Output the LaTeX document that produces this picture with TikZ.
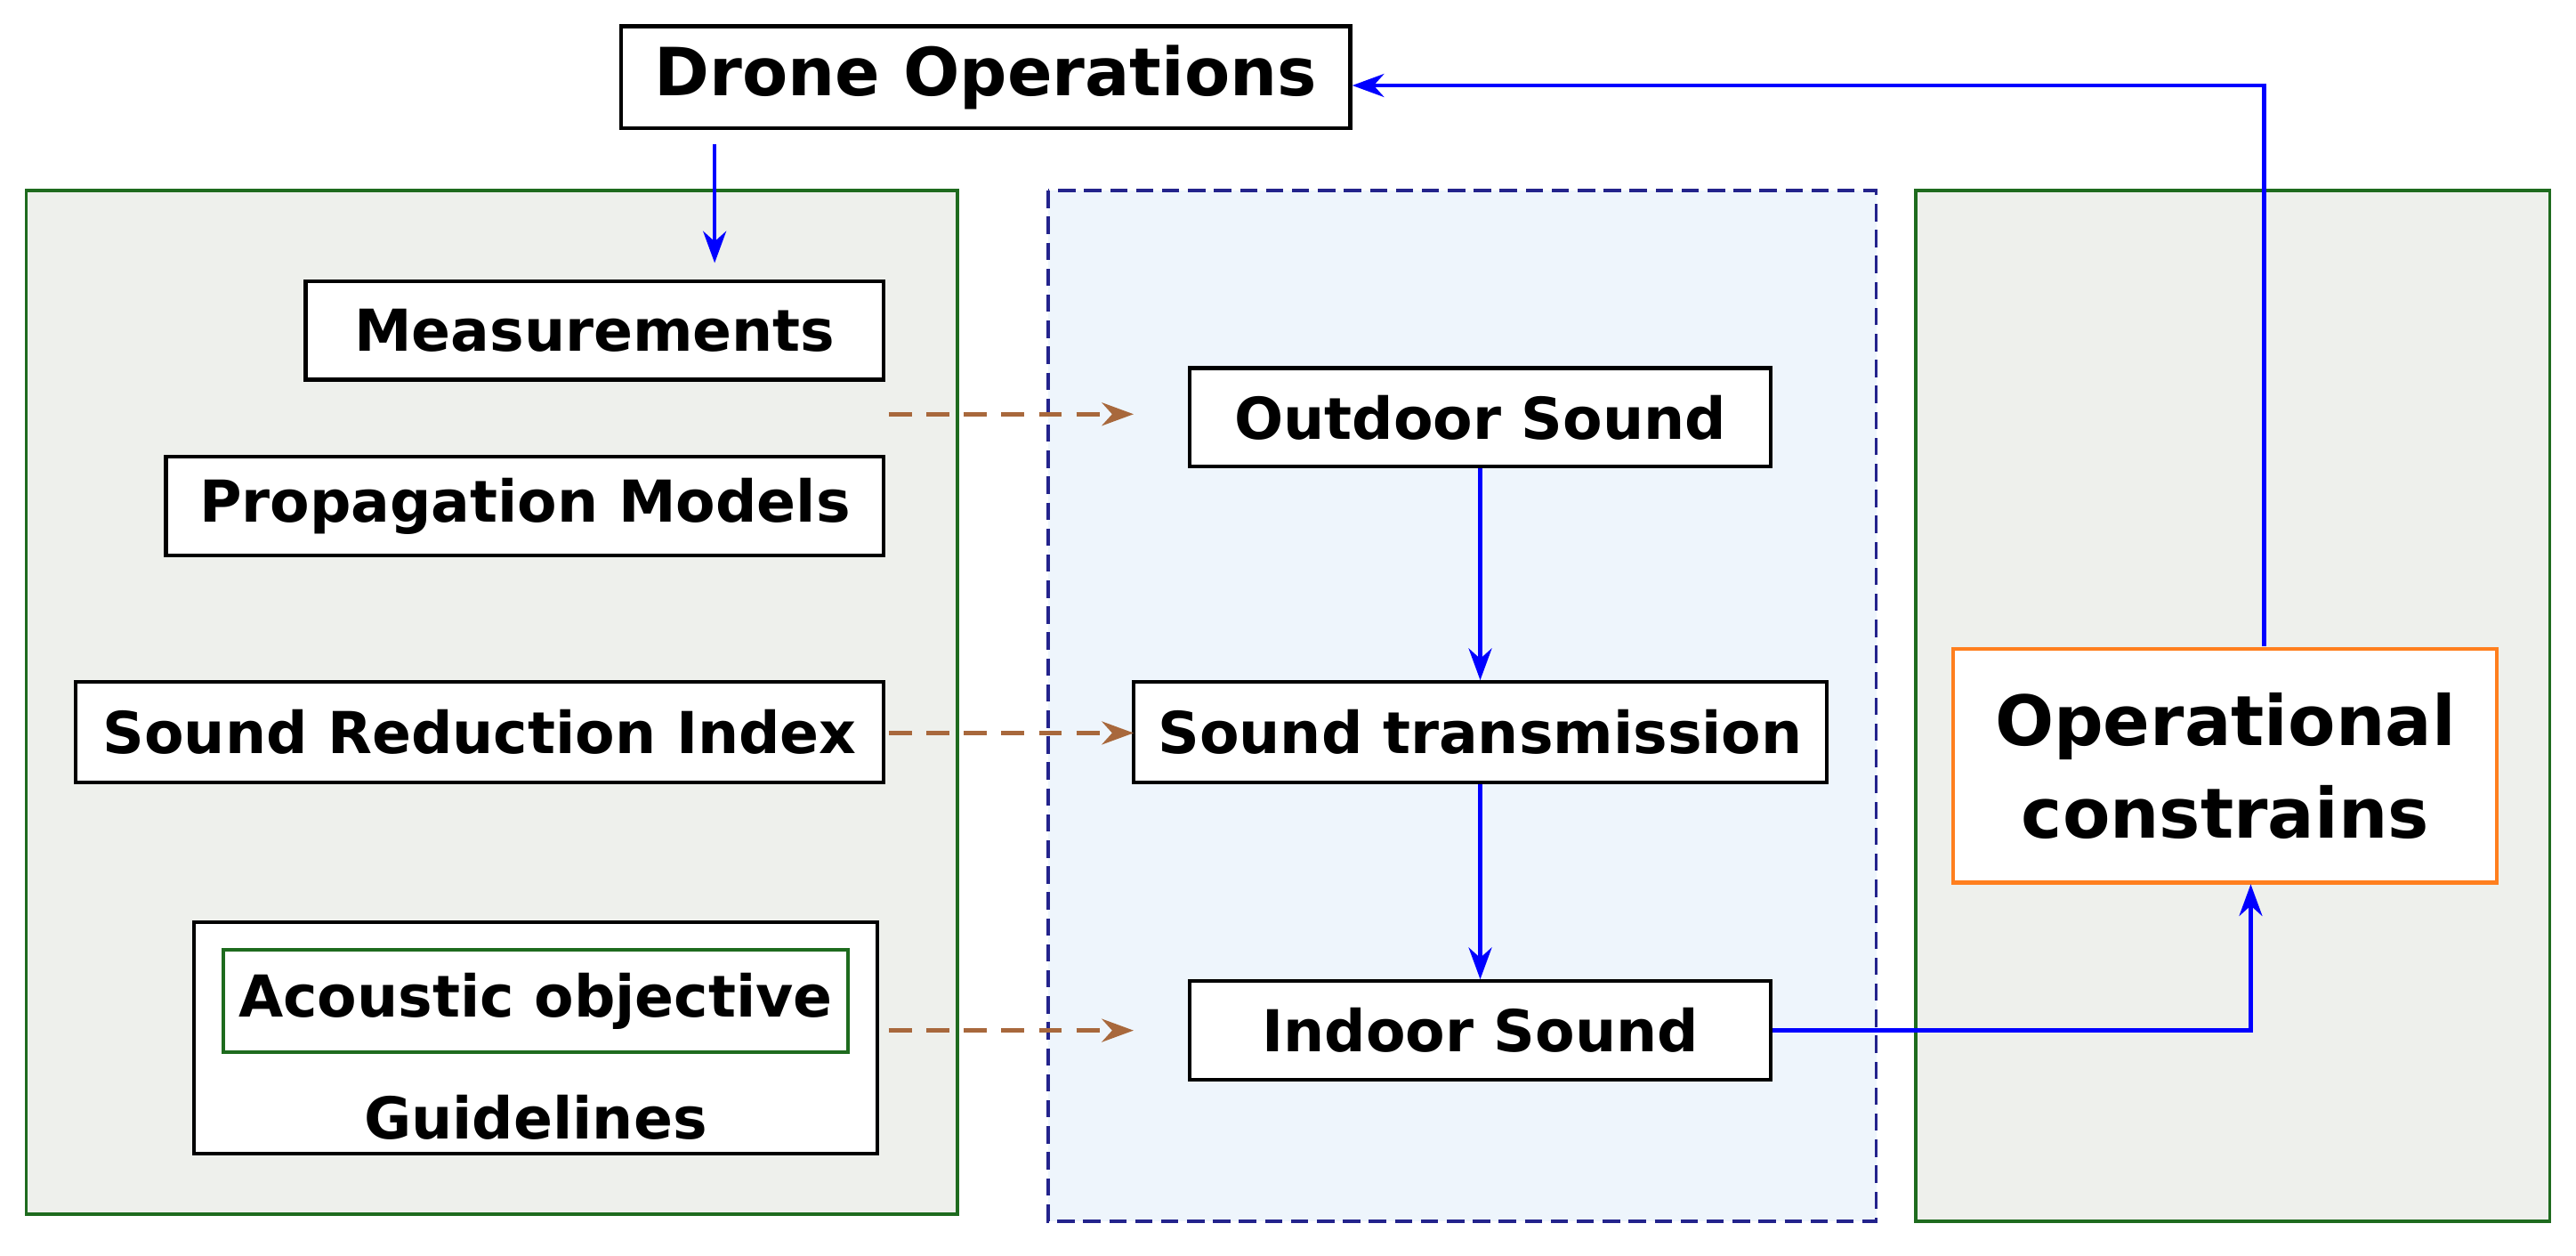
\documentclass[tikz,border=0pt]{standalone}
\usepackage{fontspec}
\setmainfont{DejaVu Sans}
\usetikzlibrary{arrows.meta}
\definecolor{panelg}{HTML}{EEF0EC}
\definecolor{panelb}{HTML}{EEF5FC}
\definecolor{dgreen}{HTML}{1E6B1E}
\definecolor{navy}{HTML}{23238C}
\definecolor{brownar}{HTML}{A8683C}
\definecolor{orng}{HTML}{FF7F1E}
\begin{document}
\begin{tikzpicture}[x=0.02cm,y=-0.02cm,
  box/.style={draw=black,line width=1.3pt,fill=white,inner sep=0pt,font=\bfseries\fontsize{20}{24}\selectfont},
  panel/.style={draw=dgreen,line width=1.2pt,fill=panelg},
  blu/.style={draw=blue,line width=1.4pt,-{Stealth[length=11pt,width=8pt]}},
  brn/.style={draw=brownar,line width=1.4pt,dash pattern=on 8pt off 5pt,-{Stealth[length=11pt,width=8pt]}}]
\useasboundingbox (0,0) rectangle (1568,764);
\path[panel] (16,116) rectangle (583,739);
\path[draw=navy,line width=1.2pt,dash pattern=on 6pt off 3pt,fill=panelb] (638,116) rectangle (1142,743);
\path[panel] (1166,116) rectangle (1552,743);
\node[box,minimum width=8.88cm,minimum height=1.24cm,font=\bfseries\fontsize{23}{27}\selectfont] (drone) at (600,47) {Drone Operations};
\node[box,minimum width=7.04cm,minimum height=1.2cm] (meas) at (362,201) {Measurements};
\node[box,minimum width=8.74cm,minimum height=1.2cm] (prop) at (319.5,308) {Propagation Models};
\node[box,minimum width=9.84cm,minimum height=1.22cm] (sri) at (292,445.5) {Sound Reduction Index};
\node[box,minimum width=8.32cm,minimum height=2.82cm] (guide) at (326,631.5) {};
\node[font=\bfseries\fontsize{20}{24}\selectfont] (gtext) at (326,680) {Guidelines};
\node[box,draw=dgreen,minimum width=7.6cm,minimum height=1.24cm] (acou) at (326,609) {Acoustic objective};
\node[box,minimum width=7.08cm,minimum height=1.2cm] (out) at (901,254) {Outdoor Sound};
\node[box,minimum width=8.44cm,minimum height=1.22cm] (trans) at (901,445.5) {Sound transmission};
\node[box,minimum width=7.08cm,minimum height=1.2cm] (ind) at (901,627) {Indoor Sound};
\node[box,draw=orng,align=center,minimum width=6.62cm,minimum height=2.84cm,font=\bfseries\fontsize{24}{32}\selectfont] (op) at (1354.5,466) {Operational\\constrains};
\coordinate (m1) at (541,252); \coordinate (m2) at (690,252);
\coordinate (s1) at (541,446); \coordinate (s2) at (690,446);
\coordinate (g1) at (541,627); \coordinate (g2) at (690,627);
\draw[blu] (435,88) -- (435,160);
\draw[brn] (m1) -- (m2);
\draw[brn] (s1) -- (s2);
\draw[brn] (g1) -- (g2);
\draw[blu] (out.south) -- (trans.north);
\draw[blu] (trans.south) -- (ind.north);
\draw[blu] (ind.east) -- (1370,627) -- (1370,538);
\draw[blu] (1378,393) -- (1378,52) -- (drone.east |- 0,52);
\end{tikzpicture}
\end{document}
